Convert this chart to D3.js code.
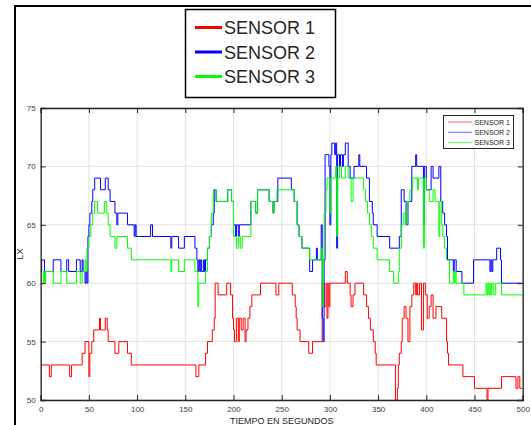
<!DOCTYPE html>
<html>
<head>
<meta charset="utf-8">
<script src="https://cdn.jsdelivr.net/npm/d3@7"></script>
<style>
  body { margin: 0; background: #fff; }
  svg { display: block; font-family: "Liberation Sans", Arial, sans-serif; }
</style>
</head>
<body>
<div id="chart"></div>
<script>
// series names and colours
const seriesNames = ["SENSOR 1", "SENSOR 2", "SENSOR 3"];
const seriesColors = ["#ff0000", "#0000ff", "#00ff00"];

// tick labels
const xTicks = [0, 50, 100, 150, 200, 250, 300, 350, 400, 450, 500];
const yTicks = [50, 55, 60, 65, 70, 75];

// step data: [seconds, LX] at each change
const sensor1 = [[0,53],[9,52],[11,53],[30,52],[32,53],[43,54],[46,55],[50,52],[51,54],[53,55],[55,56],[61,57],[62,56],
  [67,57],[69,56],[70,55],[77,54],[81,55],[90,54],[94,53],[161,52],[164,53],[171,54],[173,55],[178,56],[180,57],
  [181,60],[184,59],[193,60],[197,59],[199,57],[200,56],[201,55],[203,57],[205,55],[206,57],[208,56],[210,57],
  [212,55],[213,56],[215,57],[217,58],[219,59],[228,60],[244,59],[247,60],[261,59],[264,58],[265,57],[266,56],
  [269,55],[278,54],[282,55],[292,60],[294,58],[296,60],[297,57],[298,60],[299,58],[300,60],[316,61],[318,60],
  [321,59],[322,58],[324,59],[326,60],[335,59],[338,58],[340,57],[342,56],[345,55],[347,54],[348,53],[368,50],
  [370,51],[371,53],[372,54],[374,55],[375,57],[377,58],[379,57],[381,55],[383,58],[385,59],[387,60],[389,59],
  [390,60],[391,59],[393,60],[395,56],[397,60],[399,59],[401,57],[403,58],[405,59],[407,57],[410,58],[416,57],
  [421,55],[422,54],[423,53],[438,52],[450,51],[463,50],[464,51],[478,52],[493,51],[495,52],[497,51],[500,51]];

const sensor2 = [[0,61],[1,62],[4,61],[13,62],[21,61],[27,62],[29,61],[37,62],[41,61],[43,62],[44,61],[46,60],
  [47,61],[48,60],[49,64],[50,65],[51,66],[53,67],[54,68],[56,69],[62,68],[67,69],[70,68],[72,67],[77,66],[79,65],
  [80,66],[90,65],[97,64],[98,65],[99,64],[114,65],[116,64],[135,63],[136,64],[143,63],[149,64],[160,63],[162,62],
  [163,61],[164,62],[165,61],[166,62],[167,61],[169,62],[170,61],[171,62],[173,63],[175,64],[177,65],[179,66],
  [180,68],[182,67],[194,68],[198,67],[200,65],[202,64],[203,65],[205,64],[206,65],[218,67],[223,66],[225,68],
  [237,67],[241,66],[242,67],[246,69],[260,68],[263,67],[266,65],[268,64],[271,63],[279,61],[282,62],[286,63],
  [287,62],[291,65],[292,57],[293,55],[294,62],[295,71],[299,70],[300,65],[301,71],[302,72],[305,71],[306,72],
  [307,63],[308,71],[310,70],[311,71],[313,70],[314,71],[316,72],[319,70],[321,69],[325,70],[330,71],[331,70],
  [338,69],[341,67],[344,66],[345,65],[349,64],[362,63],[372,64],[374,68],[377,67],[379,65],[381,67],[385,70],
  [389,71],[390,70],[397,65],[398,70],[400,68],[405,70],[407,69],[413,70],[415,67],[417,66],[419,65],[421,64],
  [422,62],[428,61],[429,62],[431,61],[437,60],[449,62],[466,61],[467,62],[468,61],[469,62],[473,63],[477,62],
  [478,60],[500,60]];

const sensor3 = [[0,60],[3,61],[4,60],[5,61],[13,60],[21,61],[27,60],[37,61],[41,60],[43,61],[46,62],[47,61],
  [48,63],[50,64],[52,65],[54,66],[56,67],[59,66],[66,67],[68,66],[70,65],[72,64],[77,63],[79,64],[90,63],[94,62],
  [135,61],[136,62],[143,61],[149,62],[160,61],[163,58],[164,60],[171,61],[173,63],[175,64],[177,66],[179,68],
  [182,67],[194,68],[198,67],[200,64],[203,63],[205,64],[207,63],[209,64],[218,67],[223,66],[225,68],[237,67],
  [241,66],[242,67],[245,68],[263,67],[266,65],[268,64],[271,63],[279,62],[291,63],[292,58],[293,62],[294,66],
  [296,68],[297,69],[300,66],[301,69],[306,70],[307,64],[308,69],[310,70],[312,69],[316,70],[319,69],[322,67],
  [324,69],[335,68],[337,67],[339,66],[341,65],[343,64],[345,63],[349,62],[362,61],[366,60],[371,61],[372,63],
  [374,65],[376,66],[378,65],[380,67],[383,68],[386,69],[391,68],[392,69],[397,63],[398,69],[400,68],[403,67],
  [407,68],[409,67],[413,64],[414,67],[416,65],[417,64],[419,63],[421,62],[424,60],[428,61],[429,60],[430,61],
  [431,60],[439,59],[462,60],[463,59],[464,60],[465,59],[466,60],[467,59],[468,60],[470,59],[472,60],[478,59],
  [500,59]];

const allSeries = [sensor1, sensor2, sensor3];

const W = 531, H = 425;
const plot = { left: 40.7, right: 522.7, top: 108, bottom: 400 };

const svg = d3.select("#chart").append("svg")
    .attr("width", W)
    .attr("height", H);

svg.append("rect").attr("width", W).attr("height", H).attr("fill", "#fff");

// outer figure frame (only top and left edges visible)
svg.append("path")
    .attr("d", "M15,425 L15,6 L531,6")
    .attr("fill", "none")
    .attr("stroke", "#000")
    .attr("stroke-width", 2);

// big legend at the top
const bigLeg = svg.append("g");
bigLeg.append("rect")
    .attr("x", 185.5).attr("y", 9.5).attr("width", 150).attr("height", 88)
    .attr("fill", "#fff").attr("stroke", "#000").attr("stroke-width", 1.5);
seriesNames.forEach((name, i) => {
    const yy = 27.5 + i * 24.5;
    bigLeg.append("line")
        .attr("x1", 195).attr("x2", 222).attr("y1", yy).attr("y2", yy)
        .attr("stroke", seriesColors[i]).attr("stroke-width", 3);
    bigLeg.append("text")
        .attr("x", 224).attr("y", yy + 6.5)
        .attr("font-size", 18).attr("fill", "#262626")
        .text(name);
});

// scales
const x = d3.scaleLinear().domain([0, 500]).range([plot.left, plot.right]);
const y = d3.scaleLinear().domain([50, 75]).range([plot.bottom, plot.top]);

// grid
const grid = svg.append("g").attr("stroke", "#e3e3e3").attr("stroke-width", 1);
grid.selectAll(".gx").data(xTicks).enter().append("line")
    .attr("x1", d => x(d)).attr("x2", d => x(d))
    .attr("y1", plot.top).attr("y2", plot.bottom);
grid.selectAll(".gy").data(yTicks).enter().append("line")
    .attr("x1", plot.left).attr("x2", plot.right)
    .attr("y1", d => y(d)).attr("y2", d => y(d));

// lines
const clip = svg.append("defs").append("clipPath").attr("id", "clip")
    .append("rect")
    .attr("x", plot.left).attr("y", plot.top - 1)
    .attr("width", plot.right - plot.left).attr("height", plot.bottom - plot.top + 2);

const line = d3.line()
    .x(d => x(d[0]))
    .y(d => y(d[1]))
    .curve(d3.curveStepAfter);

const lines = svg.append("g").attr("clip-path", "url(#clip)");
allSeries.forEach((s, i) => {
    lines.append("path")
        .datum(s)
        .attr("fill", "none")
        .attr("stroke", seriesColors[i])
        .attr("stroke-width", 1)
        .attr("d", line);
});

// axes, MATLAB style ticks pointing inward
const tickLen = 5;
const axisColor = "#262626";

const xAxis = svg.append("g")
    .attr("transform", "translate(0," + plot.bottom + ")")
    .call(d3.axisBottom(x).tickValues(xTicks).tickSize(-tickLen).tickPadding(6));
const xAxisTop = svg.append("g")
    .attr("transform", "translate(0," + plot.top + ")")
    .call(d3.axisTop(x).tickValues(xTicks).tickSize(-tickLen).tickFormat(""));
const yAxis = svg.append("g")
    .attr("transform", "translate(" + plot.left + ",0)")
    .call(d3.axisLeft(y).tickValues(yTicks).tickSize(-tickLen).tickPadding(5));
const yAxisRight = svg.append("g")
    .attr("transform", "translate(" + plot.right + ",0)")
    .call(d3.axisRight(y).tickValues(yTicks).tickSize(-tickLen).tickFormat(""));

[xAxis, xAxisTop, yAxis, yAxisRight].forEach(g => {
    g.select(".domain").attr("stroke", axisColor).attr("stroke-width", 1.3);
    g.selectAll(".tick line").attr("stroke", axisColor);
    g.selectAll(".tick text")
        .attr("fill", "#404040")
        .attr("font-size", 8)
        .attr("font-family", "Liberation Sans, Arial, sans-serif");
});

// axis labels
svg.append("text")
    .attr("x", (plot.left + plot.right) / 2)
    .attr("y", 424)
    .attr("text-anchor", "middle")
    .attr("font-size", 9)
    .attr("fill", "#262626")
    .text("TIEMPO EN SEGUNDOS");

svg.append("text")
    .attr("transform", "translate(23," + ((plot.top + plot.bottom) / 2) + ") rotate(-90)")
    .attr("text-anchor", "middle")
    .attr("font-size", 9)
    .attr("fill", "#262626")
    .text("LX");

// small legend inside the axes
const leg = svg.append("g");
leg.append("rect")
    .attr("x", 443.5).attr("y", 115.5).attr("width", 70).attr("height", 33)
    .attr("fill", "#fff").attr("stroke", "#262626").attr("stroke-width", 1);
seriesNames.forEach((name, i) => {
    const yy = 122 + i * 10.3;
    leg.append("line")
        .attr("x1", 448).attr("x2", 472).attr("y1", yy).attr("y2", yy)
        .attr("stroke", seriesColors[i]).attr("stroke-opacity", 0.6).attr("stroke-width", 1);
    leg.append("text")
        .attr("x", 474.5).attr("y", yy + 2.5)
        .attr("font-size", 7).attr("fill", "#262626")
        .text(name);
});
</script>
</body>
</html>
